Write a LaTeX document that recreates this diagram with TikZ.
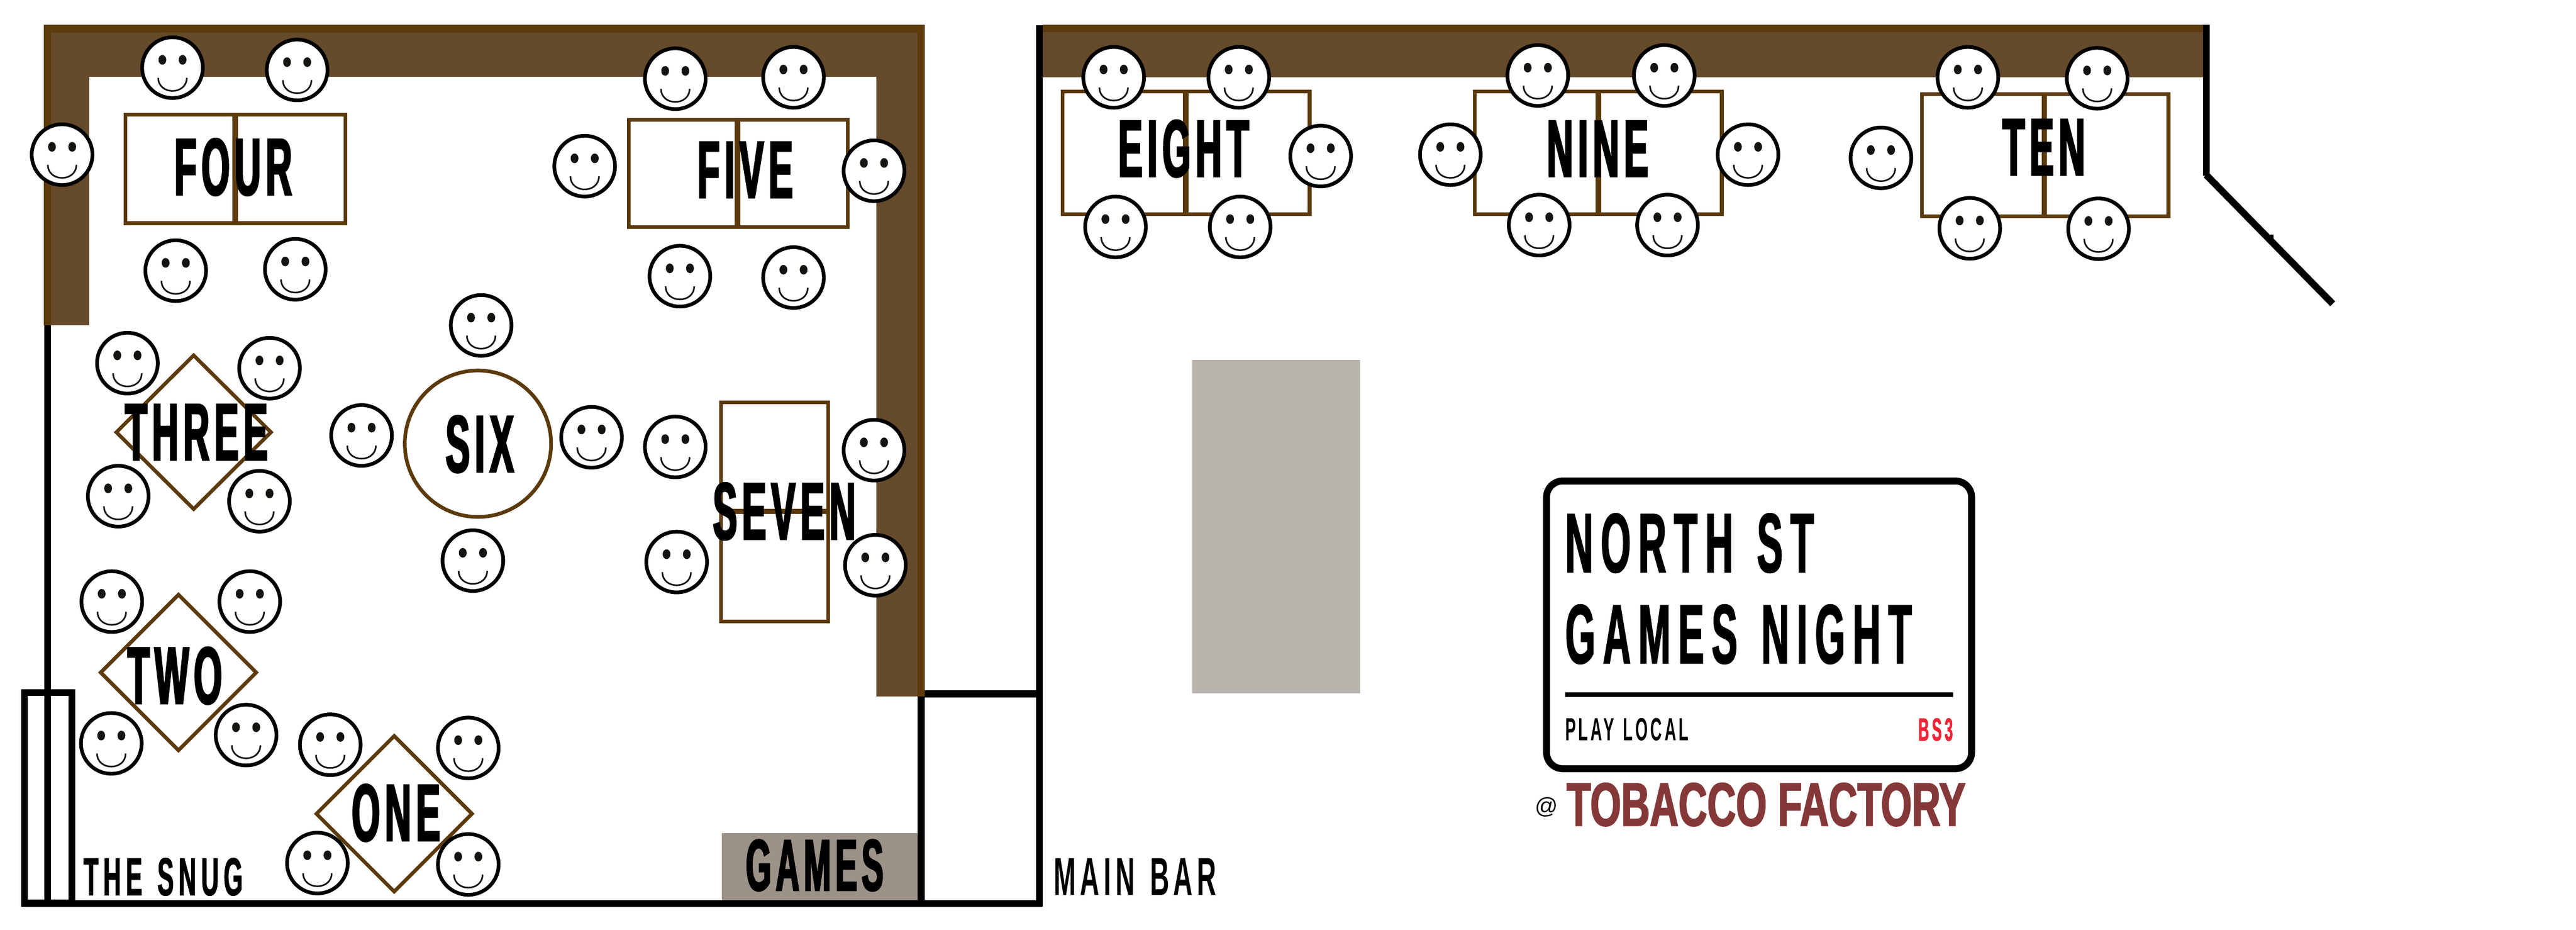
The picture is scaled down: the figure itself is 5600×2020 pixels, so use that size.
\documentclass[tikz,border=0pt]{standalone}
\usepackage{xcolor}
\usepackage{fontspec}
\usepackage{tikz}
\usetikzlibrary{shapes.geometric}
\newfontfamily\tablefont[FakeStretch=.45,FakeBold=2,LetterSpace=6]{Liberation Sans Bold}
\newfontfamily\signfont[FakeStretch=.46,FakeBold=1.2,LetterSpace=9,WordSpace=1.3]{Liberation Sans Bold}
\newfontfamily\thinfont[FakeStretch=.5,LetterSpace=8,WordSpace=1.3]{Liberation Sans Bold}
\newfontfamily\factoryfont[FakeStretch=.65,FakeBold=1.8]{Liberation Sans Bold}
\newfontfamily\atfont{Liberation Sans}
\definecolor{wallbrown}{HTML}{654A2B}
\definecolor{edgebrown}{HTML}{5C3A0C}
\definecolor{bargrey}{HTML}{B9B4AD}
\definecolor{gamesgrey}{HTML}{9D9287}
\definecolor{signred}{HTML}{EE2436}
\definecolor{factoryred}{HTML}{853838}
\definecolor{faceblack}{HTML}{141410}
\tikzset{
    tabletop/.style={draw=edgebrown, line width=0.08cm, fill=white},
    tablecut/.style={draw=edgebrown, line width=0.12cm},
    tablename/.style={inner sep=0, font=\tablefont\fontsize{50}{50}\selectfont},
    wallline/.style={fill=black},
    smiley/.pic={
        \draw[line width=0.08cm, fill=white] (0,0) circle[radius=66];
        \fill[faceblack] (-22,-17) ellipse[x radius=8.5, y radius=10.5];
        \fill[faceblack] (22,-17) ellipse[x radius=8.5, y radius=10.5];
        \draw[faceblack, line width=0.035cm] (-31,22) .. controls (-31,60) and (31,60) .. (31,22);
    }
}
\begin{document}
\begin{tikzpicture}[x=0.01cm, y=-0.01cm]
    \useasboundingbox (0,0) rectangle (5600,2020);
    % left room walls
    \fill[wallbrown] (95,54) rectangle (2010,167);
    \fill[wallbrown] (95,54) rectangle (194,707);
    \fill[wallbrown] (1905,54) rectangle (2010,1513);
    \fill[edgebrown] (95,54) rectangle (2010,71);
    \fill[edgebrown] (95,54) rectangle (111,707);
    \fill[edgebrown] (1995,54) rectangle (2010,1513);
    \fill[wallline] (96,707) rectangle (111,1970);
    \fill[wallline] (96,1955) rectangle (2267,1970);
    \draw[line width=0.15cm] (53,1505) rectangle (156,1962);
    \fill[gamesgrey] (1569,1810) rectangle (1995,1955);
    \fill[wallline] (1995,1513) rectangle (2010,1970);
    \fill[wallline] (2010,1500) rectangle (2252,1515);
    % main bar walls
    \fill[wallbrown] (2267,54) rectangle (4789,168);
    \fill[edgebrown] (2267,54) rectangle (4789,69);
    \fill[wallline] (2252,55) rectangle (2267,1970);
    \fill[wallline] (4789,54) rectangle (4804,382);
    \draw[line width=0.15cm] (4796,380) -- (5071,660);
    \fill[wallline] (4930,510) rectangle (4942,522);
    \fill[bargrey] (2592,782) rectangle (2957,1506);
    % tables
    \draw[tabletop] (273,249) rectangle (751,485);
    \draw[tablecut] (511,249) -- (511,485);
    \draw[tabletop] (1367,260) rectangle (1843,493);
    \draw[tablecut] (1603,260) -- (1603,493);
    \draw[tabletop] (2310,199) rectangle (2847,465);
    \draw[tablecut] (2578,199) -- (2578,465);
    \draw[tabletop] (3206,199) rectangle (3743,465);
    \draw[tablecut] (3475,199) -- (3475,465);
    \draw[tabletop] (4178,204) rectangle (4714,470);
    \draw[tablecut] (4444,204) -- (4444,470);
    \draw[tabletop] (1567,874) rectangle (1800,1350);
    \draw[tablecut] (1567,1111) -- (1800,1111);
    \draw[tabletop] (1039,964) circle[radius=159];
    \draw[tabletop] (421,772) -- (589,939) -- (421,1106) -- (253,939) -- cycle;
    \draw[tabletop] (388,1292) -- (557,1461) -- (388,1630) -- (219,1461) -- cycle;
    \draw[tabletop] (857,1599) -- (1026,1768) -- (857,1937) -- (688,1768) -- cycle;
    % table names
    \node[tablename] (four) at (507,363) {FOUR};
    \node[tablename] (five) at (1620,369) {FIVE};
    \node[tablename] (six) at (1043,965) {SIX};
    \node[tablename] (three) at (427,939) {THREE};
    \node[tablename] (two) at (380,1468) {TWO};
    \node[tablename] (one) at (861,1766) {ONE};
    \node[tablename] (seven) at (1705,1111) {SEVEN};
    \node[tablename] (eight) at (2573,323) {EIGHT};
    \node[tablename] (nine) at (3473,323) {NINE};
    \node[tablename] (ten) at (4443,320) {TEN};
    % people
    \foreach \px/\py in {375/147, 646/152, 135/336, 382/588, 642/585,
        1468/171, 1725/168, 1271/361, 1900/371, 1478/600, 1725/603,
        1046/707, 786/946, 1286/950, 1028/1218,
        277/789, 586/800, 257/1078, 564/1089,
        243/1307, 543/1307, 242/1615, 535/1597,
        718/1618, 1018/1625, 690/1875, 1018/1878,
        1468/971, 1900/978, 1471/1221, 1903/1228,
        2421/168, 2693/168, 2871/339, 2425/493, 2696/493,
        3343/164, 3618/164, 3153/336, 3800/336, 3346/489, 3625/489,
        4278/168, 4559/170, 4089/343, 4282/496, 4562/497}
        \pic at (\px,\py) {smiley};
    % room labels
    \node[inner sep=0, anchor=west, font=\signfont\fontsize{33}{33}\selectfont] (snug) at (181,1905) {THE SNUG};
    \node[inner sep=0, anchor=west, font=\thinfont\fontsize{33}{33}\selectfont] (mainbar) at (2290,1905) {MAIN BAR};
    \node[inner sep=0, font=\tablefont\fontsize{45}{45}\selectfont] (games) at (1771,1880) {GAMES};
    % street sign
    \draw[line width=0.15cm, rounded corners=0.35cm] (3362,1045) rectangle (4286,1670);
    \node[inner sep=0, anchor=west, font=\signfont\fontsize{52}{52}\selectfont] (northst) at (3402,1180) {NORTH ST};
    \node[inner sep=0, anchor=west, font=\signfont\fontsize{52}{52}\selectfont] (gamesnight) at (3402,1378) {GAMES NIGHT};
    \draw[line width=0.1cm] (3402,1509) -- (4246,1509);
    \node[inner sep=0, anchor=west, font=\thinfont\fontsize{19.8}{19.8}\selectfont] (playlocal) at (3402,1585) {PLAY LOCAL};
    \node[inner sep=0, anchor=east, text=signred, font=\signfont\fontsize{19.8}{19.8}\selectfont] (bsthree) at (4246,1585) {BS3};
    \node[inner sep=0, font=\atfont\fontsize{14}{14}\selectfont] (at) at (3362,1754) {@};
    \node[inner sep=0, anchor=west, text=factoryred, font=\factoryfont\fontsize{37.8}{37.8}\selectfont] (factory) at (3405,1748) {TOBACCO FACTORY};
\end{tikzpicture}
\end{document}
